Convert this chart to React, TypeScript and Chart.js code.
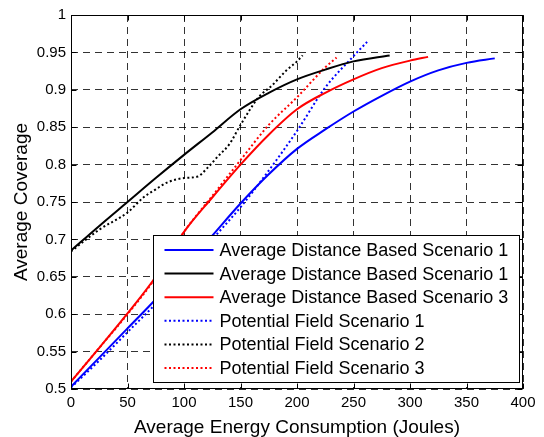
import React, { useEffect, useRef } from "react";
import { Chart, registerables } from "chart.js";

Chart.register(...registerables);

// ---- axis ranges / ticks ----
const xMin = 0;
const xMax = 400;
const xStep = 50;
const yMin = 0.5;
const yMax = 1;
const yStep = 0.05;

const xTitle = "Average Energy Consumption (Joules)";
const yTitle = "Average Coverage";

const seriesLabels = [
  "Average Distance Based Scenario 1",
  "Average Distance Based Scenario 1",
  "Average Distance Based Scenario 3",
  "Potential Field Scenario 1",
  "Potential Field Scenario 2",
  "Potential Field Scenario 3",
];

// ---- series data ----
const adb1X = [0, 25, 50, 75, 100, 125, 150, 175, 200, 225, 250, 275, 300, 325, 350, 375];
const adb1Y = [0.503, 0.542, 0.581, 0.62, 0.662, 0.705, 0.748, 0.787, 0.821, 0.847, 0.871, 0.892, 0.911, 0.926, 0.936, 0.942];

const adb2X = [0, 25, 50, 75, 100, 125, 150, 175, 200, 225, 250, 282];
const adb2Y = [0.685, 0.718, 0.75, 0.782, 0.813, 0.843, 0.874, 0.896, 0.914, 0.927, 0.938, 0.946];

const adb3X = [0, 25, 50, 75, 100, 125, 150, 175, 200, 225, 250, 275, 300, 316];
const adb3Y = [0.51, 0.555, 0.601, 0.65, 0.71, 0.756, 0.8, 0.84, 0.874, 0.896, 0.914, 0.929, 0.939, 0.944];

const pf1X = [0, 25, 50, 75, 100, 125, 150, 175, 200, 225, 250, 262];
const pf1Y = [0.502, 0.538, 0.576, 0.614, 0.656, 0.7, 0.743, 0.792, 0.845, 0.903, 0.945, 0.964];

const pf2X = [0, 25, 50, 64, 75, 85, 100, 112, 121, 130, 140, 150, 166, 178, 190, 200, 205];
const pf2Y = [0.684, 0.713, 0.736, 0.756, 0.767, 0.776, 0.782, 0.784, 0.796, 0.811, 0.827, 0.853, 0.89, 0.906, 0.925, 0.938, 0.946];

const pf3X = [0, 25, 50, 75, 100, 125, 150, 175, 200, 225, 235];
const pf3Y = [0.51, 0.555, 0.6, 0.649, 0.71, 0.758, 0.806, 0.853, 0.89, 0.93, 0.943];

const seriesXs = [adb1X, adb2X, adb3X, pf1X, pf2X, pf3X];
const seriesYs = [adb1Y, adb2Y, adb3Y, pf1Y, pf2Y, pf3Y];

// ---- styles ----
const seriesColors = ["#0000ff", "#000000", "#ff0000", "#0000ff", "#000000", "#ff0000"];
const seriesDotted = [false, false, false, true, true, true];
const DOT = [2, 2.5];
const FONT = "'Liberation Sans', Arial, Helvetica, sans-serif";

const fmt = (v: number) => String(parseFloat(Number(v).toFixed(2)));

const framePlugin = {
  id: "matlabFrame",
  beforeDraw(chart: any) {
    const { ctx, width, height } = chart;
    ctx.save();
    ctx.fillStyle = "#ffffff";
    ctx.fillRect(0, 0, width, height);
    ctx.restore();
  },
  afterDraw(chart: any) {
    const { ctx, chartArea: a, scales } = chart;
    const L = Math.round(a.left) + 0.5;
    const R = Math.round(a.right) - 0.5;
    const T = Math.round(a.top) + 0.5;
    const B = Math.round(a.bottom) - 0.5;
    ctx.save();
    ctx.strokeStyle = "#000";
    ctx.lineWidth = 1;
    ctx.setLineDash([]);
    ctx.strokeRect(L, T, R - L, B - T);
    // inward tick marks
    const tl = 5;
    ctx.beginPath();
    scales.x.ticks.forEach((t: any) => {
      const px = Math.round(scales.x.getPixelForValue(t.value)) + 0.5;
      ctx.moveTo(px, B);
      ctx.lineTo(px, B - tl);
      ctx.moveTo(px, T);
      ctx.lineTo(px, T + tl);
    });
    scales.y.ticks.forEach((t: any) => {
      const py = Math.round(scales.y.getPixelForValue(t.value)) + 0.5;
      ctx.moveTo(L, py);
      ctx.lineTo(L + tl, py);
      ctx.moveTo(R, py);
      ctx.lineTo(R - tl, py);
    });
    ctx.stroke();

    // axis titles
    ctx.fillStyle = "#000";
    ctx.font = `19px ${FONT}`;
    ctx.textAlign = "center";
    ctx.textBaseline = "alphabetic";
    ctx.fillText(xTitle, (a.left + a.right) / 2, 433);
    ctx.save();
    ctx.translate(27, (a.top + a.bottom) / 2);
    ctx.rotate(-Math.PI / 2);
    ctx.fillText(yTitle, 0, 0);
    ctx.restore();

    // legend box
    const lr = Math.round(a.right) - 3.5;
    const lb = Math.round(a.bottom) - 6.5;
    const lw = 366;
    const lh = 147;
    const ll = lr - lw;
    const lt = lb - lh;
    ctx.fillStyle = "#fff";
    ctx.fillRect(ll, lt, lw, lh);
    ctx.strokeStyle = "#000";
    ctx.lineWidth = 1;
    ctx.strokeRect(ll, lt, lw, lh);
    ctx.font = `18px ${FONT}`;
    ctx.textAlign = "left";
    ctx.textBaseline = "middle";
    chart.data.datasets.forEach((ds: any, i: number) => {
      const yc = lt + 14.5 + i * 23.6;
      ctx.beginPath();
      ctx.strokeStyle = ds.borderColor;
      ctx.lineWidth = 2;
      ctx.setLineDash(ds.borderDash || []);
      ctx.moveTo(ll + 11, yc);
      ctx.lineTo(ll + 60, yc);
      ctx.stroke();
      ctx.setLineDash([]);
      ctx.fillStyle = "#000";
      ctx.fillText(ds.label, ll + 66, yc + 1);
    });
    ctx.restore();
  },
};

export default function App() {
  const ref = useRef<HTMLCanvasElement | null>(null);
  useEffect(() => {
    if (!ref.current) return;
    const datasets = seriesLabels.map((label, i) => ({
      label,
      data: seriesXs[i].map((x, j) => ({ x, y: seriesYs[i][j] })),
      borderColor: seriesColors[i],
      backgroundColor: seriesColors[i],
      borderWidth: 2,
      borderDash: seriesDotted[i] ? DOT : [],
      borderCapStyle: "butt",
      pointRadius: 0,
      fill: false,
      cubicInterpolationMode: "monotone",
    }));
    // draw dotted after solid like original: order as given
    const chart = new Chart(ref.current, {
      type: "line",
      data: { datasets: datasets as any },
      options: {
        responsive: false,
        animation: false,
        events: [],
        layout: { padding: { left: 0, top: 15, right: 21, bottom: 0 } },
        plugins: { legend: { display: false }, tooltip: { enabled: false } },
        scales: {
          x: {
            type: "linear",
            min: xMin,
            max: xMax,
            afterFit: (s: any) => {
              s.height = 48;
            },
            ticks: {
              stepSize: xStep,
              color: "#000",
              padding: 5,
              maxRotation: 0,
              font: { family: FONT, size: 15 },
              callback: (v: any) => fmt(v),
            },
            grid: { color: "rgba(0,0,0,0.8)", lineWidth: 1, drawTicks: false },
            border: { display: false, dash: [7, 5] },
          },
          y: {
            type: "linear",
            min: yMin,
            max: yMax,
            afterFit: (s: any) => {
              s.width = 71;
            },
            ticks: {
              stepSize: yStep,
              color: "#000",
              padding: 5,
              font: { family: FONT, size: 15 },
              callback: (v: any) => fmt(v),
            },
            grid: { color: "rgba(0,0,0,0.8)", lineWidth: 1, drawTicks: false },
            border: { display: false, dash: [7, 5] },
          },
        },
      },
      plugins: [framePlugin],
    });
    return () => chart.destroy();
  }, []);
  return (
    <div style={{ position: "fixed", left: 0, top: 0, width: 544, height: 437, background: "#fff" }}>
      <canvas ref={ref} width={544} height={437} style={{ display: "block" }} />
    </div>
  );
}
